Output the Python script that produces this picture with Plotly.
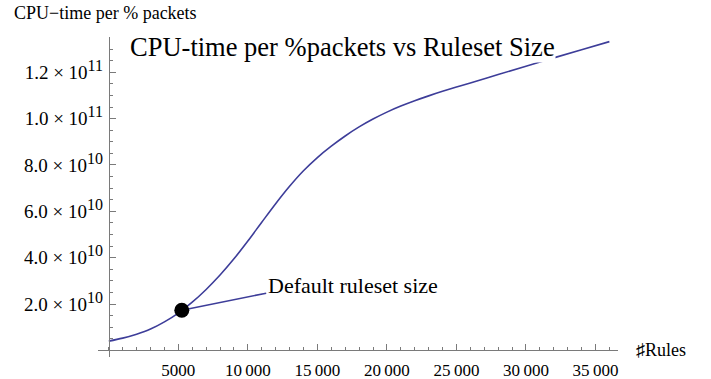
import plotly.graph_objects as go

# Ruleset size (number of rules) and CPU time per % packets (in units of 1e10)
rules = [0, 1000, 2000, 3000, 4000, 5000, 6000, 7000, 8000, 9000, 10000,
         11000, 12000, 13000, 14000, 15000, 16000, 17000, 18000, 19000,
         20000, 21000, 22000, 23000, 24000, 25000, 26000, 28000, 30000,
         32000, 34000, 36000]
cpu_e10 = [0.40, 0.53, 0.70, 0.92, 1.23, 1.61, 2.08, 2.63, 3.25, 3.95, 4.72,
           5.53, 6.33, 7.08, 7.75, 8.32, 8.81, 9.25, 9.64, 9.98,
           10.28, 10.54, 10.77, 10.98, 11.175, 11.36, 11.54, 11.90, 12.26,
           12.62, 12.97, 13.32]

# Default ruleset size marker
default_rules = 5250
default_cpu_e10 = 1.73

x_tickvals = [5000, 10000, 15000, 20000, 25000, 30000, 35000]
x_ticktext = ["5000", "10\u2009000", "15\u2009000", "20\u2009000",
              "25\u2009000", "30\u2009000", "35\u2009000"]
y_tickvals = [2, 4, 6, 8, 10, 12]
y_mantissa = ["2.0", "4.0", "6.0", "8.0", "1.0", "1.2"]
y_exponent = ["10", "10", "10", "10", "11", "11"]

XR = [-777, 36620]
YR = [-0.284, 13.52]
FONT = "Liberation Serif"
BLUE = "#3d3d99"
AXIS = "#7a7a7a"

y_ticktext = [f"{m}\u2005\u00d7\u200510<sup><span style='font-size:16px'>{e}</span></sup>"
              for m, e in zip(y_mantissa, y_exponent)]

fig = go.Figure()
fig.add_trace(go.Scatter(x=rules, y=cpu_e10, mode="lines",
                         line=dict(color=BLUE, width=1.6, shape="spline"),
                         hoverinfo="skip", showlegend=False))
# leader line from the default point to its label
label_x, label_y = 11320, 2.47
fig.add_trace(go.Scatter(x=[default_rules, label_x], y=[default_cpu_e10, label_y],
                         mode="lines", line=dict(color=BLUE, width=1.6),
                         hoverinfo="skip", showlegend=False))
fig.add_trace(go.Scatter(x=[default_rules], y=[default_cpu_e10], mode="markers",
                         marker=dict(color="black", size=15),
                         hoverinfo="skip", showlegend=False))

xpos = (0 - YR[0]) / (YR[1] - YR[0])
ypos = (0 - XR[0]) / (XR[1] - XR[0])

fig.update_layout(
    width=711, height=379,
    margin=dict(l=98, r=93, t=37, b=22),
    paper_bgcolor="white", plot_bgcolor="white",
    font=dict(family=FONT, color="black"),
    xaxis=dict(range=XR, anchor="free", position=xpos, side="bottom",
               automargin=False,
               showgrid=False, zeroline=False, showline=True,
               linecolor=AXIS, linewidth=1,
               tickmode="array", tickvals=x_tickvals, ticktext=x_ticktext,
               ticks="inside", ticklen=6, tickcolor=AXIS, tickwidth=1,
               tickfont=dict(family=FONT, size=17, color="black"),
               ticklabelstandoff=4,
               minor=dict(ticks="inside", ticklen=3.5, tickcolor=AXIS,
                          dtick=1000, tick0=0, showgrid=False)),
    yaxis=dict(range=YR, anchor="free", position=ypos, side="left",
               automargin=False,
               showgrid=False, zeroline=False, showline=True,
               linecolor=AXIS, linewidth=1,
               tickmode="array", tickvals=y_tickvals, ticktext=y_ticktext,
               ticks="inside", ticklen=6, tickcolor=AXIS, tickwidth=1,
               tickfont=dict(family=FONT, size=19, color="black"),
               ticklabelstandoff=2,
               minor=dict(ticks="inside", ticklen=3.5, tickcolor=AXIS,
                          dtick=0.5, tick0=0, showgrid=False)),
)

fig.add_annotation(x=1420, y=13.07, xref="x", yref="y",
                   text="CPU-time per %packets vs Ruleset Size",
                   showarrow=False, xanchor="left", yanchor="middle",
                   bgcolor="white", borderpad=0,
                   font=dict(family=FONT, size=26.5, color="black"))
fig.add_annotation(x=label_x + 20, y=2.79, xref="x", yref="y",
                   text="Default ruleset size",
                   showarrow=False, xanchor="left", yanchor="middle",
                   font=dict(family=FONT, size=22, color="black"))
fig.add_annotation(x=-0.166, y=1.0765, xref="paper", yref="paper",
                   text="CPU\u2212time per % packets",
                   showarrow=False, xanchor="left", yanchor="middle",
                   font=dict(family=FONT, size=18, color="black"))
fig.add_annotation(x=(634 - 98) / 520, y=xpos, xref="paper", yref="paper",
                   text="\u266fRules",
                   showarrow=False, xanchor="left", yanchor="middle",
                   font=dict(family=FONT, size=18, color="black"))

fig.write_html("out.html")
